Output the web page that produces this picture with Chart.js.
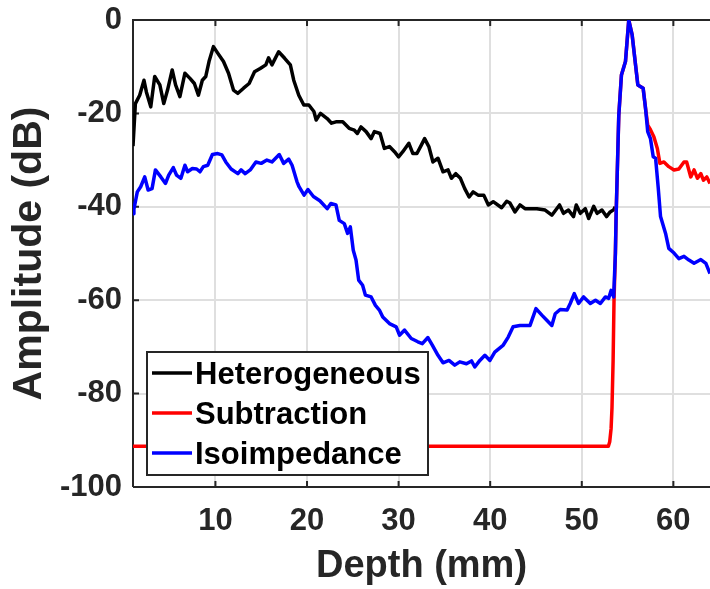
<!DOCTYPE html>
<html>
<head>
<meta charset="utf-8">
<script src="https://cdn.jsdelivr.net/npm/chart.js@4.4.1/dist/chart.umd.min.js"></script>
<style>
  html, body { margin: 0; padding: 0; background: #fff; }
  #wrap { width: 710px; height: 589px; }
</style>
</head>
<body>
<div id="wrap"><canvas id="chart" width="710" height="589"></canvas></div>
<script>
// axis ticks
const xTicks = [10, 20, 30, 40, 50, 60];
const yTicks = [-100, -80, -60, -40, -20, 0];

// Heterogeneous (black)
const hetDepth = [1.0, 1.26, 1.73, 2.2, 2.46, 2.94, 3.37, 3.93, 4.36, 4.77, 5.28, 5.65, 6.12, 6.67, 7.22, 7.7, 8.14, 8.57, 8.94, 9.3,
  9.78, 10.25, 10.88, 11.43, 11.97, 12.45, 13.07, 13.68, 14.27, 14.89, 15.5, 15.8, 16.17, 16.9, 17.56, 18.18, 18.55, 19.1, 19.65, 20.2,
  20.75, 21.0, 21.47, 22.2, 22.68, 23.16, 23.9, 24.6, 25.17, 25.5, 25.9, 26.45, 27.0, 27.36, 27.98, 28.45, 29.0, 29.55, 30.0, 30.46,
  31.12, 31.56, 32.0, 32.48, 32.84, 33.3, 33.75, 34.3, 34.85, 35.4, 35.77, 36.24, 36.75, 37.22, 37.7, 38.14, 38.68, 39.3, 39.8, 40.33,
  41.25, 41.8, 42.16, 42.7, 43.25, 43.8, 44.17, 45.1, 46.0, 46.73, 47.57, 48.0, 48.55, 49.1, 49.4, 49.84, 50.38, 50.75, 51.3, 51.67,
  52.2, 52.7, 53.1, 53.5, 53.65];
const hetAmp = [-27.0, -17.9, -16.1, -12.9, -15.4, -18.6, -12.1, -13.9, -17.9, -15.0, -10.7, -13.9, -16.4, -11.4, -12.5, -13.6, -16.1, -12.9, -12.1, -8.9,
  -5.7, -7.1, -8.9, -11.4, -15.0, -15.7, -14.6, -13.6, -11.1, -10.4, -9.6, -8.1, -9.6, -6.8, -8.2, -9.6, -12.9, -16.1, -18.2, -18.2,
  -19.6, -21.4, -20.0, -21.1, -22.1, -21.8, -21.8, -23.2, -23.6, -24.3, -22.9, -23.9, -25.4, -23.9, -24.3, -27.5, -27.1, -28.2, -29.3, -28.2,
  -26.4, -28.6, -28.6, -26.8, -25.4, -27.1, -30.4, -29.6, -32.5, -32.1, -33.9, -32.9, -33.9, -36.1, -37.9, -36.8, -37.5, -37.5, -39.6, -38.9,
  -40.2, -38.8, -39.2, -41.1, -39.6, -40.4, -40.4, -40.4, -40.7, -41.8, -39.6, -41.4, -40.7, -42.1, -39.6, -41.4, -40.4, -42.5, -39.9, -41.4,
  -40.7, -42.1, -41.1, -40.6, -40.0];

// Subtraction (red)
const subDepth = [1.0, 52.9, 53.05, 53.2, 53.3, 53.42, 53.52, 53.67, 53.75, 54.04, 54.33, 54.77, 55.13, 55.5, 55.87, 56.12, 56.7, 56.96, 57.2, 57.5,
  57.87, 58.25, 58.53, 58.97, 59.5, 60.07, 60.6, 61.16, 61.45, 61.9, 62.26, 62.63, 63.0, 63.28, 63.65, 64.0];
const subAmp = [-91.3, -91.3, -90.3, -87.5, -83.0, -73.0, -60.0, -50.0, -41.8, -20.4, -11.8, -8.9, 0, -3.2, -9.6, -13.9, -14.6, -18.9, -22.5, -23.5,
  -25.0, -27.5, -30.7, -30.4, -31.4, -32.1, -31.9, -30.4, -30.4, -33.6, -32.1, -33.9, -32.9, -34.3, -33.6, -35.0];

// Isoimpedance (blue)
const isoDepth = [1.0, 1.1, 1.47, 1.84, 2.28, 2.65, 3.08, 3.45, 4.04, 4.55, 4.9, 5.4, 5.75, 6.23, 6.67, 6.96, 7.48, 7.95, 8.31, 8.68,
  9.16, 9.67, 10.25, 10.7, 11.13, 11.71, 12.45, 12.8, 13.25, 13.8, 14.42, 15.0, 15.62, 16.17, 16.97, 17.45, 18.0, 18.37, 18.9, 19.13,
  19.68, 20.1, 20.7, 21.4, 22.2, 22.6, 23.16, 23.52, 24.07, 24.43, 24.73, 25.05, 25.35, 25.64, 26.07, 26.37, 27.0, 27.47, 27.9, 28.27,
  29.0, 29.74, 30.1, 30.65, 31.38, 32.1, 32.59, 33.2, 33.68, 34.3, 34.85, 35.5, 36.13, 36.68, 37.41, 37.96, 38.32, 38.87, 39.42, 39.97,
  40.5, 41.43, 41.97, 42.5, 43.25, 44.35, 45.0, 45.64, 46.18, 46.73, 47.1, 47.64, 48.4, 48.74, 49.18, 49.65, 50.2, 50.93, 51.5, 52.03,
  52.58, 52.94, 53.2, 53.48, 53.67, 53.75, 54.04, 54.33, 54.77, 55.13, 55.5, 55.87, 56.12, 56.7, 56.96, 57.2, 57.5, 57.8, 58.06, 58.35,
  58.6, 59.15, 59.5, 60.07, 60.6, 61.16, 61.7, 62.26, 63.0, 63.55, 64.0];
const isoAmp = [-41.5, -40.5, -36.8, -35.7, -33.6, -36.4, -36.1, -32.1, -33.6, -35.0, -33.2, -31.6, -33.2, -33.9, -31.1, -32.5, -31.8, -31.9, -32.5, -31.4,
  -31.1, -28.8, -28.6, -28.9, -30.4, -31.9, -32.9, -32.1, -32.9, -32.1, -30.4, -30.7, -30.0, -30.4, -28.8, -30.7, -29.8, -31.1, -34.6, -35.7,
  -37.5, -36.3, -37.8, -38.7, -40.4, -39.3, -39.6, -42.9, -43.6, -45.7, -44.3, -49.3, -51.4, -55.7, -56.8, -58.9, -59.3, -61.1, -62.1, -63.6,
  -65.0, -65.7, -67.5, -66.4, -68.2, -68.9, -69.3, -68.0, -69.6, -71.8, -73.4, -72.9, -73.9, -73.2, -73.6, -73.0, -74.3, -72.9, -71.8, -72.9,
  -71.1, -69.6, -67.9, -65.7, -65.4, -65.4, -61.8, -63.2, -64.3, -65.4, -62.9, -62.0, -62.1, -60.7, -58.6, -60.7, -59.3, -60.7, -60.0, -60.7,
  -59.3, -59.6, -57.9, -59.3, -50.0, -41.8, -20.4, -11.8, -8.9, 0, -3.2, -9.6, -13.9, -14.6, -18.9, -23.9, -25.4, -29.3, -29.6, -36.0,
  -42.1, -45.7, -48.9, -49.9, -51.1, -50.6, -51.4, -52.1, -51.3, -52.1, -54.3];

const FONT = '"Liberation Sans", Arial, Helvetica, sans-serif';
const axisColor = '#262626';

function toPoints(xs, ys) {
  return xs.map((x, i) => ({ x: x, y: ys[i] }));
}

// MATLAB-like box with inward tick marks
const framePlugin = {
  id: 'frame',
  beforeDatasetsDraw(chart) {
    const { ctx, chartArea: a, scales } = chart;
    ctx.save();
    ctx.strokeStyle = axisColor;
    ctx.lineWidth = 2;
    ctx.beginPath();
    ctx.moveTo(a.left, a.bottom);
    ctx.lineTo(a.left, a.top);
    ctx.lineTo(a.right, a.top);
    ctx.moveTo(a.left, a.bottom);
    ctx.lineTo(a.right, a.bottom);
    xTicks.forEach(v => {
      const px = scales.x.getPixelForValue(v);
      ctx.moveTo(px, a.bottom);
      ctx.lineTo(px, a.bottom - 6);
      ctx.moveTo(px, a.top);
      ctx.lineTo(px, a.top + 6);
    });
    yTicks.forEach(v => {
      const py = scales.y.getPixelForValue(v);
      ctx.moveTo(a.left, py);
      ctx.lineTo(a.left + 6, py);
    });
    ctx.stroke();
    ctx.restore();
  }
};

// legend box inside the lower left corner
const legendPlugin = {
  id: 'boxLegend',
  afterDraw(chart) {
    const { ctx, chartArea: a } = chart;
    const boxW = 281, boxH = 123;
    const boxL = a.left + 14;
    const boxT = a.bottom - 12 - boxH;
    ctx.save();
    ctx.fillStyle = '#fff';
    ctx.fillRect(boxL, boxT, boxW, boxH);
    ctx.strokeStyle = axisColor;
    ctx.lineWidth = 2;
    ctx.strokeRect(boxL, boxT, boxW, boxH);
    ctx.font = 'bold 31px ' + FONT;
    ctx.textBaseline = 'middle';
    chart.data.datasets.forEach((ds, i) => {
      const y = boxT + 21 + i * 40;
      ctx.strokeStyle = ds.borderColor;
      ctx.lineWidth = 3.5;
      ctx.beginPath();
      ctx.moveTo(boxL + 5, y);
      ctx.lineTo(boxL + 45, y);
      ctx.stroke();
      ctx.fillStyle = '#000';
      ctx.fillText(ds.label, boxL + 48, y + 2);
    });
    ctx.restore();
  }
};

const lineStyle = { borderWidth: 3.5, pointRadius: 0, tension: 0, borderJoinStyle: 'round', fill: false };

new Chart(document.getElementById('chart').getContext('2d'), {
  type: 'line',
  data: {
    datasets: [
      { label: 'Heterogeneous', data: toPoints(hetDepth, hetAmp), borderColor: '#000000', order: 3, ...lineStyle },
      { label: 'Subtraction', data: toPoints(subDepth, subAmp), borderColor: '#ff0000', order: 2, ...lineStyle },
      { label: 'Isoimpedance', data: toPoints(isoDepth, isoAmp), borderColor: '#0000ff', order: 1, ...lineStyle }
    ]
  },
  options: {
    responsive: false,
    devicePixelRatio: 1,
    animation: false,
    layout: { padding: { top: 20, right: 0, bottom: 0, left: 0 } },
    plugins: { legend: { display: false }, tooltip: { enabled: false } },
    scales: {
      x: {
        type: 'linear',
        min: 1,
        max: 64,
        afterBuildTicks: scale => { scale.ticks = xTicks.map(v => ({ value: v })); },
        afterFit: scale => { scale.height = 102; scale.paddingLeft = 0; scale.paddingRight = 0; },
        grid: { color: '#dfdfdf', lineWidth: 2, drawTicks: false },
        border: { display: false },
        ticks: { padding: 16, color: axisColor, font: { family: FONT, size: 31, weight: 'bold' } },
        title: {
          display: true,
          text: 'Depth (mm)',
          color: axisColor,
          padding: { top: 0, bottom: 0 },
          font: { family: FONT, size: 38, weight: 'bold' }
        }
      },
      y: {
        min: -100,
        max: 0,
        afterBuildTicks: scale => { scale.ticks = yTicks.map(v => ({ value: v })); },
        afterFit: scale => { scale.width = 133; scale.paddingTop = 0; scale.paddingBottom = 0; },
        grid: { color: '#dfdfdf', lineWidth: 2, drawTicks: false },
        border: { display: false },
        ticks: { padding: 11, color: axisColor, font: { family: FONT, size: 31, weight: 'bold' } },
        title: {
          display: true,
          text: 'Amplitude (dB)',
          color: axisColor,
          padding: { top: 5, bottom: 0 },
          font: { family: FONT, size: 41, weight: 'bold' }
        }
      }
    }
  },
  plugins: [framePlugin, legendPlugin]
});
</script>
</body>
</html>
